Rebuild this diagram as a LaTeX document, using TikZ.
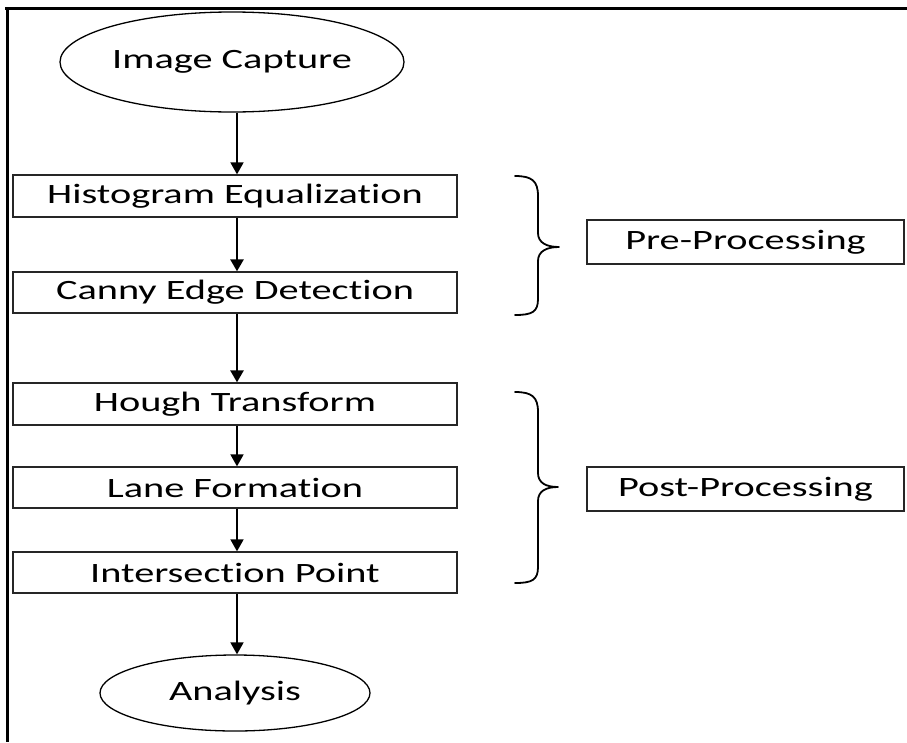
\documentclass[tikz,border=0pt]{standalone}
\usepackage{fontspec}
\setmainfont{Carlito}[FakeStretch=1.44, RawFeature=-liga]
\usetikzlibrary{shapes.geometric,arrows.meta}

\begin{document}
\begin{tikzpicture}[x=1pt,y=-1pt,
  lbl/.style={font=\fontsize{28}{30}\selectfont, text=black},
  stepbox/.style={lbl, draw=black!85, line width=1.3pt, minimum width=444pt,
    minimum height=42pt, inner sep=0pt},
  stagebox/.style={lbl, draw=black!85, line width=1.3pt, minimum width=317pt,
    minimum height=44pt, inner sep=0pt},
  terminal/.style={lbl, ellipse, draw=black, line width=1.3pt, inner sep=0pt},
  flow/.style={line width=1.8pt, -{Triangle[width=13pt,length=12pt]}},
  heavyflow/.style={flow, line width=2.6pt},
  bracket/.style={line width=1.8pt, line cap=round, line join=round}]

\useasboundingbox (0,0) rectangle (907,742);

% frame: top and left rules only
\draw[line width=3pt] (5,8) -- (907,8);
\draw[line width=3pt] (7,8) -- (7,742);

% main chain
\node[terminal, minimum width=344pt, minimum height=100pt] (cap) at (232,62) {Image Capture};
\node[stepbox] (hist) at (235,196) {Histogram Equalization};
\node[stepbox, minimum height=41pt] (canny) at (235,292.5) {Canny Edge Detection};
\node[stepbox] (hough) at (235,404) {Hough Transform};
\node[stepbox, minimum height=41pt] (lane) at (235,487.5) {Lane Formation};
\node[stepbox, minimum height=41pt] (inter) at (235,572.5) {Intersection Point};
\node[terminal, minimum width=270pt, minimum height=76pt] (ana) at (235,693) {Analysis};

\draw[flow] (cap.south -| hist.north) ++(2,0) coordinate (c0) -- (c0 |- hist.north);
\draw[heavyflow] ([xshift=2pt]hist.south) -- ([xshift=2pt]canny.north);
\draw[heavyflow] ([xshift=2pt]canny.south) -- ([xshift=2pt]hough.north);
\draw[flow] ([xshift=2pt]hough.south) -- ([xshift=2pt]lane.north);
\draw[flow] ([xshift=2pt]lane.south) -- ([xshift=2pt]inter.north);
\draw[flow] ([xshift=2pt]inter.south) -- ([xshift=2pt]ana.north);

% stage labels
\node[stagebox] (pre) at (745.5,242) {Pre-Processing};
\node[stagebox] (post) at (745.5,489) {Post-Processing};

% braces grouping the steps
\draw[bracket] (515,176) .. controls (532,176) and (538,181) .. (538,196)
  -- (538,233) .. controls (538,243) and (547,247) .. (559,247)
  .. controls (547,247) and (538,251) .. (538,261)
  -- (538,299) .. controls (538,312) and (532,315) .. (515,315);
\draw[bracket] (515,392) .. controls (532,392) and (538,397) .. (538,412)
  -- (538,473) .. controls (538,483) and (546,487) .. (558,487)
  .. controls (546,487) and (538,491) .. (538,501)
  -- (538,567) .. controls (538,580) and (532,583) .. (515,583);
\end{tikzpicture}
\end{document}
